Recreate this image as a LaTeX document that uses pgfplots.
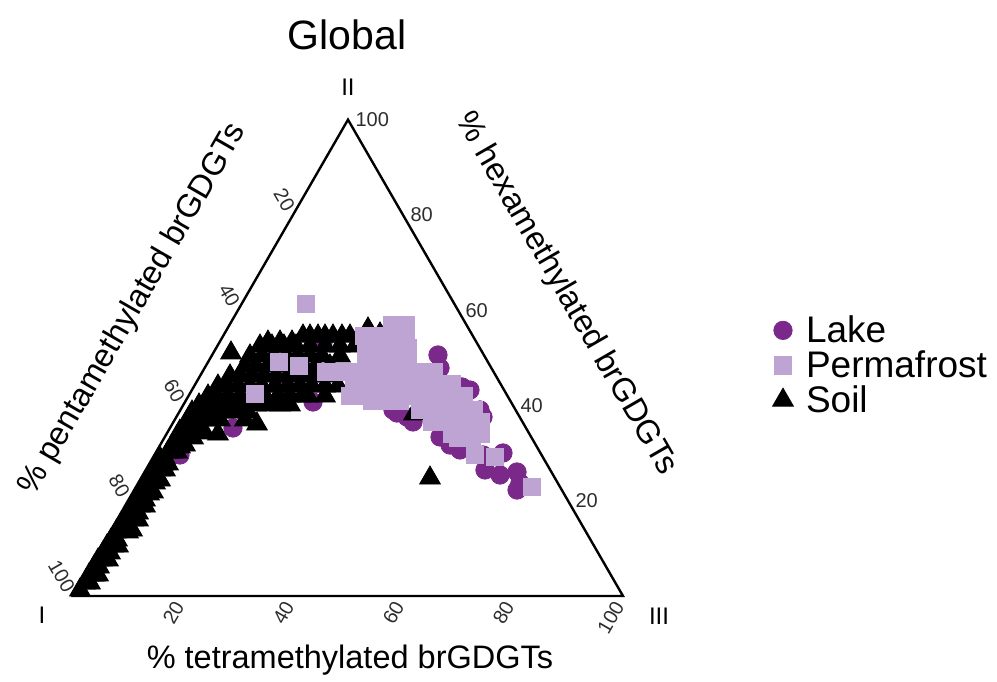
\documentclass[border=0pt]{standalone}
\usepackage{fontspec}
\setmainfont{Liberation Sans}
\usepackage{pgfplots}
\usepackage{pgfplotstable}
\pgfplotsset{compat=1.18}
\definecolor{lakec}{RGB}{122,41,138}
\definecolor{permc}{RGB}{189,164,211}
\definecolor{tickc}{RGB}{45,45,45}

% Cartesian ternary coordinates: I=(0,0), III=(100,0), II=(50,86.6)
\pgfplotstableread{
X Y
1.27 1.09
2.18 2.36
3.09 2.36
2.91 3.82
3.64 3.82
4.00 3.82
4.55 3.82
3.82 5.27
4.73 5.27
4.55 6.55
5.27 6.55
6.36 6.55
5.45 7.82
6.73 7.82
6.18 9.09
7.27 9.09
8.18 9.09
6.91 10.18
8.00 10.18
7.82 11.64
10.00 11.64
10.73 12.00
8.55 12.73
9.64 12.73
9.27 13.82
10.91 13.82
11.82 13.82
10.00 15.09
11.82 15.09
10.73 16.36
12.18 16.36
13.09 16.36
11.45 17.45
13.09 17.45
12.00 18.55
13.82 18.55
14.55 18.91
12.73 19.82
13.64 19.82
13.45 20.91
14.91 20.55
15.82 21.09
14.00 21.82
15.27 21.82
14.55 22.91
15.82 22.91
16.73 22.91
15.27 24.00
16.36 24.00
17.27 24.00
15.82 25.09
16.73 25.09
17.27 26.18
18.00 26.18
18.91 26.18
17.82 27.09
19.45 27.09
20.36 27.45
18.55 28.18
19.09 28.18
18.91 28.91
20.00 28.91
21.82 28.73
19.45 30.00
21.27 30.00
20.18 30.73
23.09 30.73
20.91 32.00
22.73 32.00
24.73 32.00
26.73 32.00
24.00 29.64
26.36 29.45
31.27 32.00
33.45 31.27
21.64 33.45
23.45 33.45
25.45 33.45
27.64 33.45
29.64 33.45
31.82 33.45
22.91 34.73
24.55 34.73
26.73 34.73
28.91 34.73
31.09 34.73
33.27 34.73
35.45 34.73
37.64 34.73
39.45 34.73
24.55 36.36
26.18 36.36
28.18 36.36
30.36 36.36
32.55 36.36
34.91 36.36
37.27 36.36
39.45 36.36
41.64 36.36
42.73 36.36
45.82 36.36
51.45 36.00
26.36 38.18
28.00 38.18
30.00 38.18
32.18 38.18
34.36 38.18
36.73 38.18
39.09 38.18
41.27 38.18
43.45 38.18
45.82 38.18
48.18 38.18
28.55 40.00
30.36 40.00
32.55 40.00
34.73 40.00
36.91 40.00
39.09 40.00
41.27 40.00
43.45 40.00
45.64 40.00
31.27 41.82
33.27 41.82
35.45 41.82
37.64 41.82
39.82 41.82
42.00 41.82
44.18 41.82
46.73 41.82
32.18 43.64
34.36 43.64
36.55 43.64
38.73 43.64
40.91 43.64
43.09 43.64
45.27 43.64
48.55 43.64
34.00 45.45
36.18 45.45
38.36 45.45
40.55 45.45
43.09 45.45
45.82 45.45
48.55 45.45
51.27 45.45
35.45 46.18
37.64 46.18
39.82 46.18
41.82 47.27
43.09 47.27
44.55 47.27
45.82 47.27
47.27 47.27
48.91 47.27
50.36 47.27
53.64 48.55
55.82 47.64
28.73 44.18
62.00 33.09
65.45 39.64
64.91 21.45
56.73 35.64
59.45 36.55
}\soil

\pgfplotstableread{
X Y
58.00 49.27
60.55 49.27
52.91 47.27
55.45 47.27
58.00 47.27
60.55 47.27
53.27 45.09
55.82 45.09
58.36 45.09
60.91 45.09
53.27 42.91
55.82 42.91
58.36 42.91
60.91 42.91
46.00 40.73
48.55 40.73
51.09 40.73
53.64 40.73
56.18 40.73
58.73 40.73
61.27 40.73
63.82 40.73
65.64 40.73
51.09 38.55
53.64 38.55
56.18 38.55
58.73 38.55
61.27 38.55
63.82 38.55
66.36 38.55
68.91 38.55
50.36 36.36
52.91 36.36
55.45 36.36
58.00 36.36
60.55 36.36
63.45 36.36
66.00 36.36
68.55 36.36
71.09 36.36
54.36 35.45
57.27 35.45
59.45 35.45
63.09 33.82
65.64 33.82
68.18 33.82
70.73 33.82
72.91 33.82
65.27 31.64
67.82 31.64
70.36 31.64
72.91 31.64
74.18 31.64
68.91 29.45
71.45 29.45
74.18 29.45
70.00 28.73
72.55 28.73
73.09 25.64
76.73 25.27
83.45 19.82
42.36 53.09
37.45 42.55
41.09 41.82
33.09 36.73
}\perma

\pgfplotstableread{
X Y
66.36 43.82
66.73 41.45
70.73 38.00
72.18 37.45
74.00 33.82
74.55 32.55
58.18 33.82
60.73 32.55
61.82 31.64
66.73 28.91
68.55 27.45
70.36 26.55
74.55 25.64
78.18 26.00
74.91 22.91
77.64 22.00
80.73 22.55
81.27 20.55
80.73 19.27
43.64 35.27
29.09 30.55
58.91 33.27
32.18 40.73
25.82 34.73
19.45 25.64
38.55 37.45
45.45 46.00
}\lake

\begin{document}
\begin{tikzpicture}
\begin{axis}[
  width=498.5pt, height=340.5pt, scale only axis,
  xmin=-13.27, xmax=168.0, ymin=-15.45, ymax=108.36,
  hide axis, clip=false,
  legend cell align=left,
  legend image code/.code={%
    \path[draw=none, fill=none] (-6pt,-1pt) rectangle (6pt,13pt);
    \draw[#1] plot coordinates {(0pt,0.3pt)};
  },
  legend style={draw=none, fill=none, inner sep=0pt, outer sep=0pt,
    row sep=-3pt, column sep=5.5pt,
    nodes={inner sep=0pt},
    font=\fontsize{18.5}{21}\selectfont,
    at={(axis cs:126.91,52.91)}, anchor=north west},
]
\path (rel axis cs:0,0) rectangle (rel axis cs:1,1);

\addlegendimage{only marks, mark=*, color=lakec, mark size=4.6pt}
\addlegendentry{Lake}
\addlegendimage{only marks, mark=square*, color=permc, mark size=4.4pt}
\addlegendentry{Permafrost}
\addlegendimage{only marks, mark=triangle*, color=black, mark size=6.0pt}
\addlegendentry{Soil}

\addplot[black, line width=1.2pt, line join=miter, forget plot]
  coordinates {(0,0) (100,0) (50,86.6)} -- cycle;

\addplot[only marks, mark=*, color=lakec, mark size=4.6pt, forget plot]
  table[x=X, y=Y]{\lake};
\addplot[only marks, mark=triangle*, color=black, mark size=6.0pt, forget plot]
  table[x=X, y=Y]{\soil};
\addplot[only marks, mark=square*, color=permc, mark size=4.4pt, forget plot]
  table[x=X, y=Y]{\perma};

% title and vertex labels
\node[font=\fontsize{20.5}{24}\selectfont] at (axis cs:49.82,102.0) {Global};
\node[font=\fontsize{12}{14}\selectfont] at (axis cs:50,92.55) {II};
\node[font=\fontsize{12}{14}\selectfont] at (axis cs:-5.64,-3.45) {I};
\node[font=\fontsize{12}{14}\selectfont] at (axis cs:106.55,-3.64) {III};

% axis labels
\node[font=\fontsize{16.25}{19}\selectfont] at (axis cs:50.36,-11.64) {\% tetramethylated brGDGTs};
\node[font=\fontsize{16.25}{19}\selectfont, rotate=60] at (axis cs:10.91,52.09) {\% pentamethylated brGDGTs};
\node[font=\fontsize{16.25}{19}\selectfont, rotate=-60] at (axis cs:89.64,54.91) {\% hexamethylated brGDGTs};

% bottom ticks
\node[font=\fontsize{10}{12}\selectfont, text=tickc, rotate=60, anchor=east, inner sep=3.8pt] at (axis cs:20,0) {20};
\node[font=\fontsize{10}{12}\selectfont, text=tickc, rotate=60, anchor=east, inner sep=3.8pt] at (axis cs:40,0) {40};
\node[font=\fontsize{10}{12}\selectfont, text=tickc, rotate=60, anchor=east, inner sep=3.8pt] at (axis cs:60,0) {60};
\node[font=\fontsize{10}{12}\selectfont, text=tickc, rotate=60, anchor=east, inner sep=3.8pt] at (axis cs:80,0) {80};
\node[font=\fontsize{10}{12}\selectfont, text=tickc, rotate=60, anchor=east, inner sep=3.8pt] at (axis cs:100,0) {100};
% left ticks
\node[font=\fontsize{10}{12}\selectfont, text=tickc, rotate=-60, anchor=east, inner sep=2.8pt] at (axis cs:40,69.28) {20};
\node[font=\fontsize{10}{12}\selectfont, text=tickc, rotate=-60, anchor=east, inner sep=2.8pt] at (axis cs:30,51.96) {40};
\node[font=\fontsize{10}{12}\selectfont, text=tickc, rotate=-60, anchor=east, inner sep=2.8pt] at (axis cs:20,34.64) {60};
\node[font=\fontsize{10}{12}\selectfont, text=tickc, rotate=-60, anchor=east, inner sep=2.8pt] at (axis cs:10,17.32) {80};
\node[font=\fontsize{10}{12}\selectfont, text=tickc, rotate=-60, anchor=east, inner sep=2.8pt] at (axis cs:0,0) {100};
% right ticks
\node[font=\fontsize{10}{12}\selectfont, text=tickc, anchor=west, inner sep=0pt, xshift=3.6pt] at (axis cs:90,17.32) {20};
\node[font=\fontsize{10}{12}\selectfont, text=tickc, anchor=west, inner sep=0pt, xshift=3.6pt] at (axis cs:80,34.64) {40};
\node[font=\fontsize{10}{12}\selectfont, text=tickc, anchor=west, inner sep=0pt, xshift=3.6pt] at (axis cs:70,51.96) {60};
\node[font=\fontsize{10}{12}\selectfont, text=tickc, anchor=west, inner sep=0pt, xshift=3.6pt] at (axis cs:60,69.28) {80};
\node[font=\fontsize{10}{12}\selectfont, text=tickc, anchor=west, inner sep=0pt, xshift=3.6pt] at (axis cs:50,86.60) {100};
\end{axis}
\end{tikzpicture}
\end{document}
